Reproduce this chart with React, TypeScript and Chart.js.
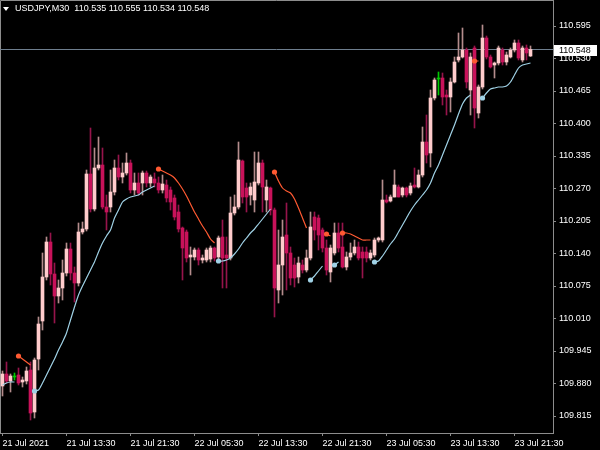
import React, { useEffect, useRef } from "react";
import Chart from "chart.js/auto";

const NA = null;

const SYMBOL = "USDJPY,M30";

const OPEN = [
  109.875, 109.899, 109.885, 109.893, 109.897, 109.883, 109.885, 109.907, 109.823, 109.929,
  110.005, 110.093, 110.163, 110.099, 110.055, 110.071, 110.101, 110.149, 110.101, 110.081,
  110.183, 110.189, 110.299, 110.229, 110.311, 110.317, 110.233, 110.233, 110.263, 110.311,
  110.293, 110.301, 110.321, 110.267, 110.281, 110.281, 110.301, 110.281, 110.289, 110.281,
  110.267, 110.277, 110.267, 110.251, 110.223, 110.191, 110.183, 110.133, 110.133, 110.147,
  110.127, 110.127, 110.129, 110.151, 110.133, 110.173, 110.137, 110.131, 110.221, 110.233,
  110.325, 110.271, 110.257, 110.247, 110.281, 110.321, 110.247, 110.271, 110.227, 110.067,
  110.117, 110.177, 110.141, 110.117, 110.093, 110.117, 110.107, 110.131, 110.213, 110.211,
  110.187, 110.151, 110.103, 110.141, 110.181, 110.153, 110.113, 110.133, 110.141, 110.153,
  110.143, 110.143, 110.131, 110.137, 110.167, 110.167, 110.247, 110.245, 110.253, 110.273,
  110.257, 110.271, 110.261, 110.277, 110.273, 110.297, 110.363, 110.341, 110.451, 110.489,
  110.491, 110.457, 110.453, 110.483, 110.527, 110.533, 110.547, 110.467, 110.551, 110.421,
  110.473, 110.571, 110.533, 110.517, 110.521, 110.547, 110.523, 110.533, 110.547, 110.561,
  110.527, 110.551, 110.535,
];

const HIGH = [
  109.905, 109.923, 109.899, 109.901, 109.911, 109.893, 109.913, 109.923, 109.931, 110.013,
  110.141, 110.173, 110.181, 110.121, 110.087, 110.127, 110.161, 110.161, 110.113, 110.201,
  110.203, 110.307, 110.391, 110.351, 110.373, 110.351, 110.257, 110.307, 110.327, 110.337,
  110.321, 110.341, 110.327, 110.301, 110.301, 110.305, 110.305, 110.297, 110.301, 110.293,
  110.297, 110.287, 110.273, 110.257, 110.237, 110.193, 110.187, 110.153, 110.151, 110.151,
  110.137, 110.151, 110.155, 110.153, 110.175, 110.207, 110.173, 110.253, 110.257, 110.363,
  110.327, 110.281, 110.281, 110.343, 110.343, 110.327, 110.287, 110.273, 110.231, 110.187,
  110.207, 110.241, 110.153, 110.131, 110.133, 110.127, 110.147, 110.223, 110.223, 110.217,
  110.191, 110.167, 110.157, 110.201, 110.201, 110.201, 110.143, 110.161, 110.167, 110.163,
  110.153, 110.153, 110.147, 110.171, 110.173, 110.287, 110.257, 110.257, 110.307, 110.277,
  110.273, 110.273, 110.281, 110.311, 110.307, 110.393, 110.417, 110.467, 110.491, 110.503,
  110.501, 110.467, 110.491, 110.533, 110.581, 110.591, 110.551, 110.541, 110.555, 110.477,
  110.597, 110.575, 110.537, 110.523, 110.555, 110.551, 110.543, 110.551, 110.567, 110.567,
  110.555, 110.557, 110.555,
];

const LOW = [
  109.855, 109.881, 109.863, 109.887, 109.877, 109.873, 109.879, 109.807, 109.811, 109.907,
  109.987, 110.087, 110.077, 110.001, 110.041, 110.047, 110.095, 110.087, 110.043, 110.075,
  110.179, 110.185, 110.223, 110.225, 110.307, 110.229, 110.187, 110.223, 110.257, 110.287,
  110.281, 110.297, 110.261, 110.257, 110.257, 110.257, 110.273, 110.273, 110.273, 110.261,
  110.261, 110.243, 110.227, 110.207, 110.183, 110.087, 110.123, 110.097, 110.127, 110.117,
  110.121, 110.123, 110.123, 110.125, 110.129, 110.071, 110.071, 110.127, 110.217, 110.229,
  110.241, 110.223, 110.237, 110.223, 110.277, 110.223, 110.223, 110.217, 110.013, 110.041,
  110.057, 110.067, 110.077, 110.073, 110.081, 110.101, 110.103, 110.127, 110.167, 110.147,
  110.143, 110.097, 110.083, 110.137, 110.143, 110.111, 110.107, 110.127, 110.137, 110.127,
  110.091, 110.123, 110.127, 110.133, 110.163, 110.163, 110.241, 110.243, 110.253, 110.253,
  110.253, 110.253, 110.257, 110.271, 110.271, 110.293, 110.321, 110.313, 110.447, 110.457,
  110.437, 110.417, 110.423, 110.481, 110.523, 110.531, 110.471, 110.417, 110.391, 110.411,
  110.469, 110.529, 110.511, 110.491, 110.517, 110.517, 110.517, 110.531, 110.543, 110.527,
  110.523, 110.527, 110.534,
];

const CLOSE = [
  109.899, 109.885, 109.895, 109.893, 109.881, 109.887, 109.905, 109.821, 109.927, 109.999,
  110.093, 110.163, 110.099, 110.055, 110.071, 110.101, 110.149, 110.101, 110.081, 110.183,
  110.189, 110.299, 110.229, 110.311, 110.317, 110.233, 110.223, 110.263, 110.311, 110.293,
  110.301, 110.321, 110.267, 110.281, 110.261, 110.301, 110.281, 110.293, 110.281, 110.267,
  110.279, 110.251, 110.243, 110.213, 110.189, 110.151, 110.131, 110.137, 110.147, 110.127,
  110.131, 110.147, 110.151, 110.131, 110.171, 110.131, 110.131, 110.221, 110.233, 110.327,
  110.253, 110.253, 110.273, 110.283, 110.321, 110.273, 110.273, 110.227, 110.071, 110.117,
  110.173, 110.141, 110.091, 110.091, 110.121, 110.107, 110.131, 110.193, 110.187, 110.177,
  110.151, 110.107, 110.151, 110.181, 110.151, 110.113, 110.133, 110.141, 110.153, 110.131,
  110.131, 110.131, 110.141, 110.167, 110.171, 110.247, 110.243, 110.253, 110.277, 110.253,
  110.271, 110.257, 110.275, 110.273, 110.297, 110.363, 110.337, 110.451, 110.487, 110.489,
  110.453, 110.453, 110.483, 110.523, 110.533, 110.547, 110.483, 110.533, 110.431, 110.473,
  110.571, 110.533, 110.513, 110.521, 110.551, 110.523, 110.537, 110.547, 110.561, 110.531,
  110.551, 110.541, 110.548,
];

// Trend indicator: rising segments (light blue) and falling segments (orange-red)
const TREND_UP = [
  109.877, 109.881, 109.883, 109.883, NA, NA, NA, NA, 109.865, 109.867,
  109.881, 109.897, 109.913, 109.929, 109.947, 109.963, 109.981, 110.007, 110.033, 110.057,
  110.075, 110.091, 110.107, 110.123, 110.143, 110.161, 110.175, 110.187, 110.211, 110.227,
  110.243, 110.249, 110.253, 110.255, 110.257, 110.263, 110.267, 110.271, 110.275, NA,
  NA, NA, NA, NA, NA, NA, NA, NA, NA, NA,
  NA, NA, NA, NA, 110.125, 110.125, 110.127, 110.131, 110.139, 110.149,
  110.161, 110.171, 110.181, 110.189, 110.199, 110.209, 110.219, 110.229, NA, NA,
  NA, NA, NA, NA, NA, NA, NA, 110.087, 110.095, 110.105,
  110.115, NA, NA, 110.117, 110.123, NA, NA, NA, NA, NA,
  NA, NA, NA, 110.123, 110.125, 110.135, 110.147, 110.159, 110.169, 110.183,
  110.197, 110.211, 110.225, 110.237, 110.247, 110.257, 110.267, 110.281, 110.301, 110.317,
  110.337, 110.357, 110.377, 110.397, 110.419, 110.439, 110.451, 110.457, NA, NA,
  110.451, 110.461, 110.469, 110.471, 110.473, 110.473, 110.475, 110.483, 110.497, 110.511,
  110.517, 110.519, 110.521,
];

const TREND_DOWN = [
  NA, NA, NA, NA, 109.935, 109.929, 109.923, 109.917, NA, NA,
  NA, NA, NA, NA, NA, NA, NA, NA, NA, NA,
  NA, NA, NA, NA, NA, NA, NA, NA, NA, NA,
  NA, NA, NA, NA, NA, NA, NA, NA, NA, 110.309,
  110.305, 110.301, 110.297, 110.291, 110.281, 110.269, 110.255, 110.239, 110.223, 110.209,
  110.195, 110.183, 110.169, 110.161, NA, NA, NA, NA, NA, NA,
  NA, NA, NA, NA, NA, NA, NA, NA, 110.303, 110.285,
  110.271, 110.265, 110.261, 110.249, 110.231, 110.211, 110.191, NA, NA, NA,
  NA, 110.179, 110.175, NA, NA, 110.181, 110.181, 110.179, 110.175, 110.171,
  110.167, 110.167, 110.167, NA, NA, NA, NA, NA, NA, NA,
  NA, NA, NA, NA, NA, NA, NA, NA, NA, NA,
  NA, NA, NA, NA, NA, NA, NA, NA, 110.525, 110.525,
  NA, NA, NA, NA, NA, NA, NA, NA, NA, NA,
  NA, NA, NA,
];

const X_TICK_INDEX = [0, 16, 32, 48, 64, 80, 96, 112, 128];
const X_TICK_LABELS = [
  "21 Jul 2021", "21 Jul 13:30", "21 Jul 21:30", "22 Jul 05:30", "22 Jul 13:30",
  "22 Jul 21:30", "23 Jul 05:30", "23 Jul 13:30", "23 Jul 21:30",
];
const Y_TICKS = [
  109.815, 109.88, 109.945, 110.01, 110.075, 110.14, 110.205, 110.27, 110.335,
  110.4, 110.465, 110.53, 110.595,
];

const FONT = "Liberation Sans";
const BULL_BODY = "#ffcccc";
const BEAR_BODY = "#c8125a";
const DOJI = "#00c800";
const BULL_WICK = "#b48c8c";
const BEAR_WICK = "#96144b";
const UP_LINE = "#a0d2e6";
const DOWN_LINE = "#ff5a32";
const AXIS = "#8c8c8c";
const PRICE_LINE = "#6e7e8e";
const TEXT = "#ffffff";

export default function App() {
  const ref = useRef<HTMLCanvasElement>(null);

  useEffect(() => {
    document.body.style.margin = "0";
    document.body.style.background = "#000";
    const canvas = ref.current;
    if (!canvas) return;

    const idx = CLOSE.map((_v, i) => i);
    const kind = (i: number) => (CLOSE[i] > OPEN[i] ? 1 : CLOSE[i] < OPEN[i] ? -1 : 0);
    const bodyColors = idx.map((i) => (kind(i) > 0 ? BULL_BODY : kind(i) < 0 ? BEAR_BODY : DOJI));
    const wickColors = idx.map((i) => (kind(i) > 0 ? BULL_WICK : kind(i) < 0 ? BEAR_WICK : DOJI));
    const wickData = idx.map((i) => ({ x: i, y: [LOW[i], HIGH[i]] }));
    const bodyData = idx.map((i) => ({
      x: i,
      y: [Math.min(OPEN[i], CLOSE[i]), Math.max(OPEN[i], CLOSE[i])],
    }));
    const toPts = (arr: (number | null)[]) => arr.map((v, i) => ({ x: i, y: v }));
    const startRadius = (arr: (number | null)[]) =>
      arr.map((v, i) => (v !== null && i > 0 && arr[i - 1] === null ? 2.6 : 0));

    const last = CLOSE.length - 1;
    const lastClose = CLOSE[last];

    const decor = {
      id: "decor",
      beforeDraw(chart: any) {
        const c = chart.ctx;
        c.save();
        c.fillStyle = "#000";
        c.fillRect(0, 0, chart.width, chart.height);
        c.restore();
      },
      beforeDatasetsDraw(chart: any) {
        const c = chart.ctx;
        const a = chart.chartArea;
        const y = chart.scales.y.getPixelForValue(lastClose);
        c.save();
        c.strokeStyle = AXIS;
        c.lineWidth = 1;
        c.beginPath();
        c.moveTo(0.5, a.bottom);
        c.lineTo(0.5, 0.5);
        c.lineTo(a.right, 0.5);
        c.stroke();
        c.strokeStyle = PRICE_LINE;
        c.beginPath();
        c.moveTo(a.left, y);
        c.lineTo(a.right, y);
        c.stroke();
        c.restore();
      },
      afterDraw(chart: any) {
        const c = chart.ctx;
        const a = chart.chartArea;
        const y = chart.scales.y.getPixelForValue(lastClose);
        c.save();
        // price label box
        c.fillStyle = "#ffffff";
        c.fillRect(a.right + 1, Math.round(y) - 5, 43, 11);
        c.fillStyle = "#000000";
        c.font = `9px "${FONT}"`;
        c.textBaseline = "middle";
        c.textAlign = "left";
        c.fillText(lastClose.toFixed(3), a.right + 6, Math.round(y) + 0.5);
        // title
        c.fillStyle = TEXT;
        c.beginPath();
        c.moveTo(3, 7);
        c.lineTo(9, 7);
        c.lineTo(6, 11);
        c.closePath();
        c.fill();
        c.textBaseline = "alphabetic";
        const title = `${SYMBOL}  ${OPEN[last].toFixed(3)} ${HIGH[last].toFixed(3)} ${LOW[last].toFixed(3)} ${CLOSE[last].toFixed(3)}`;
        c.fillText(title, 15, 11);
        c.restore();
      },
    };

    const chart = new Chart(canvas, {
      type: "bar",
      data: {
        datasets: [
          {
            type: "line",
            data: toPts(TREND_UP),
            borderColor: UP_LINE,
            backgroundColor: UP_LINE,
            borderWidth: 1.2,
            pointRadius: startRadius(TREND_UP),
            pointBackgroundColor: UP_LINE,
            pointBorderWidth: 0,
            spanGaps: false,
            tension: 0.2,
            order: 0,
          } as any,
          {
            type: "line",
            data: toPts(TREND_DOWN),
            borderColor: DOWN_LINE,
            backgroundColor: DOWN_LINE,
            borderWidth: 1.2,
            pointRadius: startRadius(TREND_DOWN),
            pointBackgroundColor: DOWN_LINE,
            pointBorderWidth: 0,
            spanGaps: false,
            tension: 0.2,
            order: 0,
          } as any,
          {
            type: "bar",
            data: bodyData,
            backgroundColor: bodyColors,
            barThickness: 3,
            grouped: false,
            minBarLength: 1,
            borderWidth: 0,
            order: 1,
          } as any,
          {
            type: "bar",
            data: wickData,
            backgroundColor: wickColors,
            barThickness: 1,
            grouped: false,
            borderWidth: 0,
            order: 2,
          } as any,
        ],
      },
      options: {
        responsive: false,
        animation: false,
        events: [],
        layout: { padding: 0, autoPadding: false } as any,
        plugins: {
          legend: { display: false },
          tooltip: { enabled: false },
          title: { display: false },
        },
        scales: {
          x: {
            type: "linear",
            position: "bottom",
            min: -0.625,
            max: 137.625,
            offset: false,
            grid: {
              drawOnChartArea: false,
              drawTicks: true,
              tickLength: 3,
              color: AXIS,
              offset: false,
            },
            border: { display: true, color: AXIS },
            ticks: {
              autoSkip: false,
              maxRotation: 0,
              minRotation: 0,
              align: "start",
              padding: 2,
              color: TEXT,
              font: { family: FONT, size: 9 },
              callback: (v: any) => {
                const k = X_TICK_INDEX.indexOf(Number(v));
                return k >= 0 ? X_TICK_LABELS[k] : "";
              },
            },
            afterBuildTicks: (s: any) => {
              s.ticks = X_TICK_INDEX.map((v) => ({ value: v }));
            },
            afterFit: (s: any) => {
              s.height = 17;
              s.paddingLeft = 0;
              s.paddingRight = 0;
              s.paddingTop = 0;
              s.paddingBottom = 0;
            },
          } as any,
          y: {
            type: "linear",
            position: "right",
            min: 109.781,
            max: 110.647,
            grid: {
              drawOnChartArea: false,
              drawTicks: true,
              tickLength: 3,
              color: AXIS,
            },
            border: { display: true, color: AXIS },
            ticks: {
              padding: 3,
              color: TEXT,
              font: { family: FONT, size: 9 },
              callback: (v: any) => Number(v).toFixed(3),
            },
            afterBuildTicks: (s: any) => {
              s.ticks = Y_TICKS.map((v) => ({ value: v }));
            },
            afterFit: (s: any) => {
              s.width = 47;
              s.paddingLeft = 0;
              s.paddingRight = 0;
              s.paddingTop = 0;
              s.paddingBottom = 0;
            },
          } as any,
        },
      },
      plugins: [decor],
    } as any);

    return () => chart.destroy();
  }, []);

  return (
    <div style={{ position: "fixed", left: 0, top: 0, width: 600, height: 450, background: "#000" }}>
      <canvas ref={ref} width={600} height={450} style={{ display: "block", width: 600, height: 450 }} />
    </div>
  );
}
